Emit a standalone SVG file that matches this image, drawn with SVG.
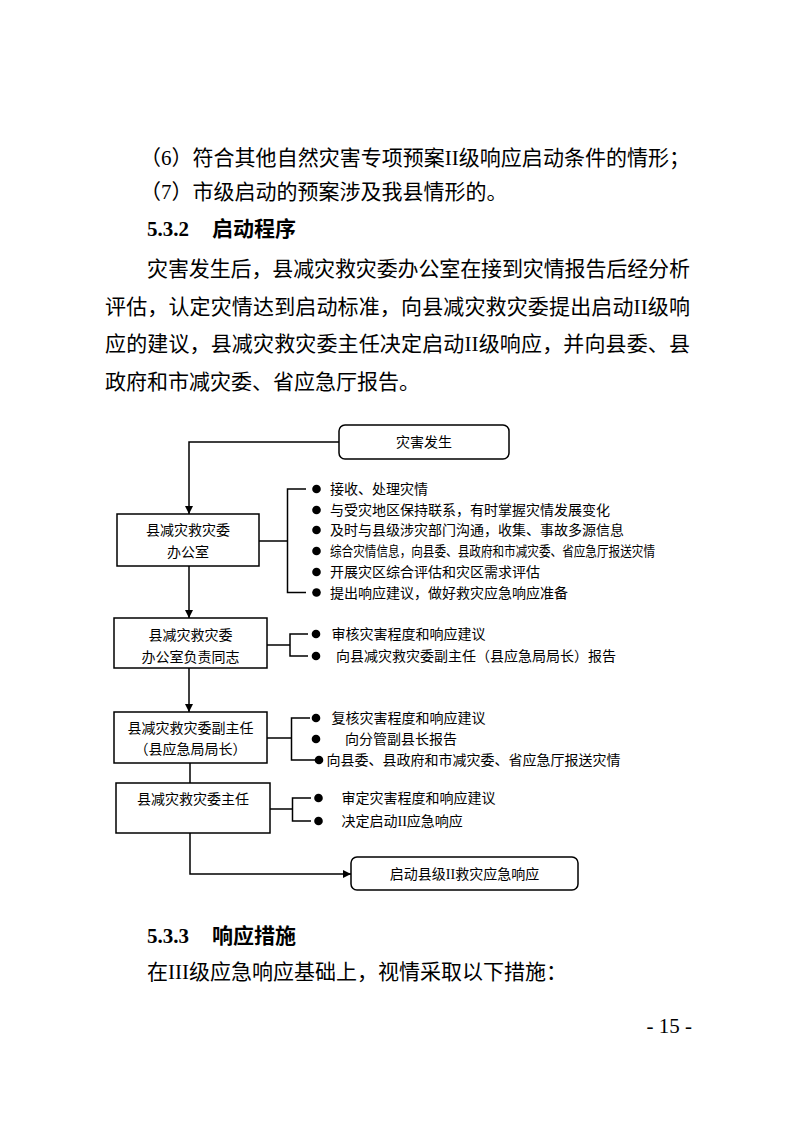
<svg xmlns="http://www.w3.org/2000/svg" width="793" height="1122" viewBox="0 0 793 1122">
<defs>
<style>
.body{font-family:"Liberation Serif","Noto Sans CJK SC",serif;font-size:21px;fill:#000}
.hd{font-family:"Liberation Serif","Noto Sans CJK SC",serif;font-size:21px;font-weight:bold;fill:#000}
.lbl{font-family:"Liberation Serif","Noto Sans CJK SC",sans-serif;font-size:14px;fill:#000}
.box{fill:#fff;stroke:#000;stroke-width:1.5}
.ln{fill:none;stroke:#000;stroke-width:1.5}
.dot{fill:#000}
</style>
<marker id="ah" viewBox="0 0 10 10" refX="10" refY="5" markerWidth="8" markerHeight="8" markerUnits="userSpaceOnUse" orient="auto">
<path d="M0,0 L10,5 L0,10 z" fill="#000"/>
</marker>
</defs>
<rect width="793" height="1122" fill="#fff"/>

<g id="page-text">
<text class="body" x="140" y="164.5" textLength="550" lengthAdjust="spacing">（6）符合其他自然灾害专项预案II级响应启动条件的情形；</text>
<text class="body" x="140" y="198.5">（7）市级启动的预案涉及我县情形的。</text>
<text class="hd" x="147" y="235.5">5.3.2</text>
<text class="hd" x="212" y="235.5">启动程序</text>
<text class="body" x="147" y="275.5" textLength="543" lengthAdjust="spacing">灾害发生后，县减灾救灾委办公室在接到灾情报告后经分析</text>
<text class="body" x="105" y="313.5" textLength="585" lengthAdjust="spacing">评估，认定灾情达到启动标准，向县减灾救灾委提出启动II级响</text>
<text class="body" x="105" y="350.5" textLength="585" lengthAdjust="spacing">应的建议，县减灾救灾委主任决定启动II级响应，并向县委、县</text>
<text class="body" x="105" y="388.5">政府和市减灾委、省应急厅报告。</text>
<text class="hd" x="147" y="942.5">5.3.3</text>
<text class="hd" x="212" y="942.5">响应措施</text>
<text class="body" x="147" y="978.5">在III级应急响应基础上，视情采取以下措施：</text>
<text class="body" x="692" y="1033" text-anchor="end">- 15 -</text>
</g>

<g id="connectors">
<polyline class="ln" points="339,442 189,442 189,514" marker-end="url(#ah)"/>
<line class="ln" x1="189" y1="566" x2="189" y2="618" marker-end="url(#ah)"/>
<line class="ln" x1="189" y1="668" x2="189" y2="712" marker-end="url(#ah)"/>
<line class="ln" x1="190" y1="763" x2="190" y2="783"/>
<polyline class="ln" points="190,833 190,874 351,874" marker-end="url(#ah)"/>
<polyline class="ln" points="259,541 287.5,541"/>
<polyline class="ln" points="306,489 287.5,489 287.5,592.5 306,592.5"/>
<polyline class="ln" points="267,645 290,645"/>
<polyline class="ln" points="308,634 290,634 290,656 308,656"/>
<polyline class="ln" points="267,738 291.5,738"/>
<polyline class="ln" points="310,718 291.5,718 291.5,760 316,760"/>
<polyline class="ln" points="270,809 292.5,809"/>
<polyline class="ln" points="311,798 292.5,798 292.5,821 311,821"/>
</g>

<g id="n-start">
<rect class="box" x="339" y="425" width="170" height="34" rx="6"/>
<text class="lbl" x="424" y="447" text-anchor="middle">灾害发生</text>
</g>

<g id="n-office">
<rect class="box" x="117" y="514" width="142" height="52"/>
<text class="lbl" x="188" y="535" text-anchor="middle">县减灾救灾委</text>
<text class="lbl" x="188" y="557" text-anchor="middle">办公室</text>
</g>

<g id="n-office-items">
<circle class="dot" cx="316.5" cy="489" r="4.3"/>
<circle class="dot" cx="316.5" cy="510" r="4.3"/>
<circle class="dot" cx="316.5" cy="530" r="4.3"/>
<circle class="dot" cx="316.5" cy="551" r="4.3"/>
<circle class="dot" cx="316.5" cy="572" r="4.3"/>
<circle class="dot" cx="316.5" cy="592.5" r="4.3"/>
<text class="lbl" x="330" y="494">接收、处理灾情</text>
<text class="lbl" x="330" y="515">与受灾地区保持联系，有时掌握灾情发展变化</text>
<text class="lbl" x="330" y="535">及时与县级涉灾部门沟通，收集、事故多源信息</text>
<text class="lbl" x="330" y="556" textLength="325" lengthAdjust="spacingAndGlyphs">综合灾情信息，向县委、县政府和市减灾委、省应急厅报送灾情</text>
<text class="lbl" x="330" y="577">开展灾区综合评估和灾区需求评估</text>
<text class="lbl" x="330" y="597.5">提出响应建议，做好救灾应急响应准备</text>
</g>

<g id="n-officer">
<rect class="box" x="114" y="618" width="153" height="50"/>
<text class="lbl" x="190.5" y="640" text-anchor="middle">县减灾救灾委</text>
<text class="lbl" x="190.5" y="662" text-anchor="middle">办公室负责同志</text>
</g>

<g id="n-officer-items">
<circle class="dot" cx="316" cy="634" r="4.3"/>
<circle class="dot" cx="316" cy="656" r="4.3"/>
<text class="lbl" x="331.5" y="639">审核灾害程度和响应建议</text>
<text class="lbl" x="336" y="661">向县减灾救灾委副主任（县应急局局长）报告</text>
</g>

<g id="n-deputy">
<rect class="box" x="114" y="712" width="153" height="51"/>
<text class="lbl" x="190.5" y="733" text-anchor="middle">县减灾救灾委副主任</text>
<text class="lbl" x="190.5" y="754" text-anchor="middle">（县应急局局长）</text>
</g>

<g id="n-deputy-items">
<circle class="dot" cx="316" cy="718" r="4.3"/>
<circle class="dot" cx="316" cy="739" r="4.3"/>
<circle class="dot" cx="319" cy="760" r="4.3"/>
<text class="lbl" x="331.5" y="723">复核灾害程度和响应建议</text>
<text class="lbl" x="345" y="744">向分管副县长报告</text>
<text class="lbl" x="326.5" y="765">向县委、县政府和市减灾委、省应急厅报送灾情</text>
</g>

<g id="n-director">
<rect class="box" x="116" y="783" width="154" height="50"/>
<text class="lbl" x="193" y="804" text-anchor="middle">县减灾救灾委主任</text>
</g>

<g id="n-director-items">
<circle class="dot" cx="318.5" cy="798" r="4.3"/>
<circle class="dot" cx="318.5" cy="821" r="4.3"/>
<text class="lbl" x="341.5" y="803">审定灾害程度和响应建议</text>
<text class="lbl" x="341.5" y="826">决定启动II应急响应</text>
</g>

<g id="n-end">
<rect class="box" x="351" y="857" width="227" height="33" rx="6"/>
<text class="lbl" x="464.5" y="879" text-anchor="middle">启动县级II救灾应急响应</text>
</g>
</svg>
